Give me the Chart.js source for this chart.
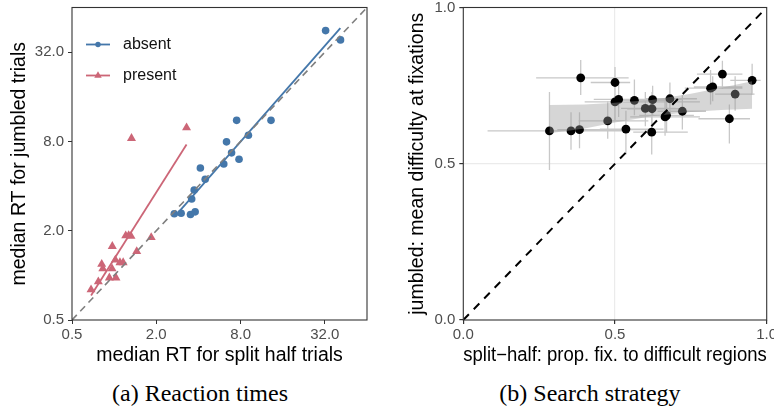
<!DOCTYPE html>
<html><head><meta charset="utf-8">
<script src="https://cdn.jsdelivr.net/npm/chart.js@4.4.1/dist/chart.umd.min.js"></script>
<style>
html,body{margin:0;padding:0;background:#fff;overflow:hidden;width:774px;height:412px;position:relative;}
#wrapA{position:absolute;left:0;top:0;width:385px;height:372px;}
#wrapB{position:absolute;left:390px;top:0;width:400px;height:372px;}
.cap{position:absolute;top:379px;font-family:"Liberation Serif","Times New Roman",serif;font-size:24px;color:#000;white-space:nowrap;transform:translateX(-50%);line-height:28px;}
</style></head><body>
<div id="wrapA"><canvas id="cA" width="385" height="372"></canvas></div>
<div id="wrapB"><canvas id="cB" width="400" height="372"></canvas></div>
<div class="cap" style="left:200px">(a) Reaction times</div>
<div class="cap" style="left:590px">(b) Search strategy</div>
<script>
// ---------- Panel (a) data ----------
const rtTicks = [0.5, 2, 8, 32];
const rtTickLabels = ['0.5', '2.0', '8.0', '32.0'];
const legendLabels = ['absent', 'present'];
const absentX = [32.4, 41.4, 7.5, 13.2, 9.1, 6.35, 6.9, 7.8, 6.07, 4.13, 4.47, 3.73, 3.58, 2.69, 3.01, 3.51, 3.79];
const absentY = [44.7, 38.7, 11.1, 11.1, 8.8, 7.95, 6.7, 6.07, 5.64, 5.3, 4.45, 3.76, 3.27, 2.6, 2.62, 2.57, 2.68];
const presentX = [3.29, 1.33, 1.21, 1.27, 1.32, 1.84, 0.97, 1.45, 1.02, 1.10, 1.16, 0.815, 0.83, 0.966, 0.924, 1.03, 0.771, 0.684];
const presentY = [9.9, 8.4, 1.85, 1.86, 1.84, 1.80, 1.57, 1.45, 1.27, 1.22, 1.22, 1.19, 1.11, 1.11, 0.963, 0.963, 0.906, 0.80];
const absentFitX = [2.93, 41.3];
const absentFitY = [2.71, 46.5];
const presentFitX = [0.684, 3.29];
const presentFitY = [0.732, 7.63];
const diagA = [0.5, 64];

// ---------- Panel (b) data ----------
const propTicks = [0, 0.5, 1];
const propTickLabels = ['0.0', '0.5', '1.0'];
const sx   = [0.284,0.355,0.383,0.387,0.476,0.500,0.500,0.512,0.536,0.564,0.600,0.622,0.624,0.621,0.665,0.670,0.681,0.722,0.815,0.822,0.854,0.877,0.896,0.952];
const sy   = [0.605,0.605,0.609,0.775,0.637,0.760,0.698,0.706,0.611,0.703,0.677,0.676,0.705,0.601,0.650,0.655,0.708,0.668,0.742,0.746,0.787,0.644,0.723,0.767];
const sxLo = [0.08,0.29,0.31,0.24,0.38,0.42,0.40,0.43,0.45,0.49,0.52,0.54,0.54,0.56,0.55,0.58,0.60,0.64,0.73,0.76,0.77,0.775,0.83,0.88];
const sxHi = [0.55,0.43,0.62,0.545,0.61,0.55,0.78,0.60,0.66,0.68,0.70,0.72,0.72,0.74,0.78,0.76,0.77,0.80,0.92,0.92,0.92,0.945,0.96,0.98];
const syLo = [0.48,0.545,0.55,0.72,0.58,0.71,0.64,0.65,0.53,0.655,0.62,0.62,0.655,0.53,0.59,0.60,0.66,0.61,0.69,0.70,0.74,0.565,0.67,0.72];
const syHi = [0.73,0.665,0.665,0.832,0.70,0.81,0.76,0.76,0.67,0.77,0.73,0.73,0.75,0.65,0.71,0.71,0.76,0.72,0.80,0.78,0.83,0.69,0.78,0.82];
const ribbonX  = [0.284, 0.40, 0.50, 0.62, 0.75, 0.85, 0.952];
const ribbonLo = [0.598, 0.613, 0.632, 0.652, 0.666, 0.672, 0.676];
const ribbonHi = [0.688, 0.690, 0.695, 0.704, 0.724, 0.743, 0.764];
const diagB = [0, 1];

// ---------- styles ----------
const absentColor = '#4477AA';
const presentColor = '#CC6677';
const FONT = "'Liberation Sans', Arial, sans-serif";
Chart.defaults.font.family = FONT;
Chart.defaults.animation = false;

const pts = (xs, ys) => xs.map((x, i) => ({x, y: ys[i]}));
function fixBox(size, dim) {
  return s => { s[dim] = size; s.paddingLeft = 0; s.paddingRight = 0; s.paddingTop = 0; s.paddingBottom = 0; };
}
const framePlugin = {
  id: 'frame',
  afterDraw(chart) {
    const {ctx, chartArea: a} = chart;
    ctx.save(); ctx.strokeStyle = '#333333'; ctx.lineWidth = 1.1;
    ctx.strokeRect(a.left, a.top, a.right - a.left, a.bottom - a.top);
    ctx.restore();
  }
};
const tickFont = {family: FONT, size: 15};
const titleFont = {family: FONT, size: 19.5};

// ---------- legend for (a) ----------
const legendPlugin = {
  id: 'inlegend',
  afterDatasetsDraw(chart) {
    const {ctx, chartArea: a} = chart;
    const items = [{color: absentColor, shape: 'circle'}, {color: presentColor, shape: 'triangle'}];
    items.forEach((it, i) => {
      const y = a.top + 37 + i * 31;
      const x0 = a.left + 14, x1 = a.left + 38, xm = (x0 + x1) / 2;
      ctx.save();
      ctx.strokeStyle = it.color; ctx.fillStyle = it.color; ctx.lineWidth = 1.8;
      ctx.beginPath(); ctx.moveTo(x0, y); ctx.lineTo(x1, y); ctx.stroke();
      ctx.beginPath();
      if (it.shape === 'circle') { ctx.arc(xm, y, 2.7, 0, Math.PI * 2); }
      else { const r = 4.3; ctx.moveTo(xm, y - r); ctx.lineTo(xm + r * 0.866, y + r * 0.5); ctx.lineTo(xm - r * 0.866, y + r * 0.5); ctx.closePath(); }
      ctx.fill();
      ctx.fillStyle = '#111'; ctx.font = '16px ' + FONT; ctx.textBaseline = 'middle'; ctx.textAlign = 'left';
      ctx.fillText(legendLabels[i], a.left + 51, y);
      ctx.restore();
    });
  }
};

new Chart(document.getElementById('cA'), {
  type: 'scatter',
  data: { datasets: [
    { data: pts(diagA, diagA), showLine: true, borderColor: '#7f7f7f', borderWidth: 1.6, borderDash: [7, 5], pointRadius: 0, order: -1 },
    { data: pts(absentFitX, absentFitY), showLine: true, borderColor: absentColor, borderWidth: 1.8, pointRadius: 0, order: 0 },
    { data: pts(presentFitX, presentFitY), showLine: true, borderColor: presentColor, borderWidth: 1.8, pointRadius: 0, order: 0 },
    { data: pts(absentX, absentY), pointStyle: 'circle', pointRadius: 3.8, backgroundColor: absentColor, borderWidth: 0, order: 1 },
    { data: pts(presentX, presentY), pointStyle: 'triangle', pointRadius: 5.2, backgroundColor: presentColor, borderWidth: 0, order: 1 }
  ]},
  options: {
    responsive: false, events: [],
    layout: { padding: { left: 0, top: 7.5, right: 18, bottom: 0 } },
    plugins: { legend: { display: false }, tooltip: { enabled: false } },
    scales: {
      x: { type: 'logarithmic', min: 0.5, max: 64,
        afterBuildTicks: s => { s.ticks = rtTicks.map(v => ({value: v})); },
        afterFit: fixBox(52, 'height'),
        ticks: { callback: (v) => rtTickLabels[rtTicks.indexOf(v)], color: '#4d4d4d', font: tickFont, padding: 2, maxRotation: 0, autoSkip: false },
        grid: { drawOnChartArea: false, tickLength: 4, tickColor: '#333333' }, border: { display: false },
        title: { display: true, text: 'median RT for split half trials', color: '#000', font: titleFont, padding: { top: 0, bottom: 5 } } },
      y: { type: 'logarithmic', min: 0.5, max: 64,
        afterBuildTicks: s => { s.ticks = rtTicks.map(v => ({value: v})); },
        afterFit: fixBox(72, 'width'),
        ticks: { callback: (v) => rtTickLabels[rtTicks.indexOf(v)], color: '#4d4d4d', font: tickFont, padding: 4, autoSkip: false },
        grid: { drawOnChartArea: false, tickLength: 4, tickColor: '#333333' }, border: { display: false },
        title: { display: true, text: 'median RT for jumbled trials', color: '#000', font: titleFont, padding: { top: 8, bottom: 0 } } }
    }
  },
  plugins: [framePlugin, legendPlugin]
});

// ---------- (b) ----------
const hBars = [], vBars = [];
sx.forEach((x, i) => {
  hBars.push({x: sxLo[i], y: sy[i]}, {x: sxHi[i], y: sy[i]}, {x: sxHi[i], y: null});
  vBars.push({x: x, y: syLo[i]}, {x: x, y: syHi[i]}, {x: x, y: null});
});
new Chart(document.getElementById('cB'), {
  type: 'scatter',
  data: { datasets: [
    { data: pts(diagB, diagB), showLine: true, borderColor: '#000', borderWidth: 2, borderDash: [8, 7], pointRadius: 0, order: -1 },
    { type: 'line', data: pts(ribbonX, ribbonHi), borderWidth: 0, pointRadius: 0, fill: '+1', backgroundColor: 'rgba(153,153,153,0.4)', order: 0 },
    { type: 'line', data: pts(ribbonX, ribbonLo), borderWidth: 0, pointRadius: 0, fill: false, order: 0 },
    { data: pts(sx, sy), pointRadius: 4.4, backgroundColor: '#000', borderWidth: 0, order: 1 },
    { data: hBars, showLine: true, spanGaps: false, borderColor: '#c8c8c8', borderWidth: 1.3, pointRadius: 0, order: 2 },
    { data: vBars, showLine: true, spanGaps: false, borderColor: '#c8c8c8', borderWidth: 1.3, pointRadius: 0, order: 2 }
  ]},
  options: {
    responsive: false, events: [],
    layout: { padding: { left: 0, top: 7.5, right: 23.3, bottom: 0 } },
    plugins: { legend: { display: false }, tooltip: { enabled: false } },
    scales: {
      x: { type: 'linear', min: 0, max: 1,
        afterBuildTicks: s => { s.ticks = propTicks.map(v => ({value: v})); },
        afterFit: fixBox(52, 'height'),
        ticks: { callback: (v) => propTickLabels[propTicks.indexOf(v)], color: '#4d4d4d', font: tickFont, padding: 2, maxRotation: 0, autoSkip: false },
        grid: { drawOnChartArea: true, color: c => (c.tick && c.tick.value === 0.5) ? '#ebebeb' : 'rgba(0,0,0,0)', lineWidth: 1.2, tickLength: 4, tickColor: '#333333' }, border: { display: false },
        title: { display: true, text: 'split\u2212half: prop. fix. to difficult regions', color: '#000', font: titleFont, padding: { top: 0, bottom: 5 } } },
      y: { type: 'linear', min: 0, max: 1,
        afterBuildTicks: s => { s.ticks = propTicks.map(v => ({value: v})); },
        afterFit: fixBox(73.3, 'width'),
        ticks: { callback: (v) => propTickLabels[propTicks.indexOf(v)], color: '#4d4d4d', font: tickFont, padding: 4, autoSkip: false },
        grid: { drawOnChartArea: true, color: c => (c.tick && c.tick.value === 0.5) ? '#ebebeb' : 'rgba(0,0,0,0)', lineWidth: 1.2, tickLength: 4, tickColor: '#333333' }, border: { display: false },
        title: { display: true, text: 'jumbled: mean difficulty at fixations', color: '#000', font: titleFont, padding: { top: 16, bottom: 0 } } }
    }
  },
  plugins: [framePlugin]
});
</script>
</body></html>
